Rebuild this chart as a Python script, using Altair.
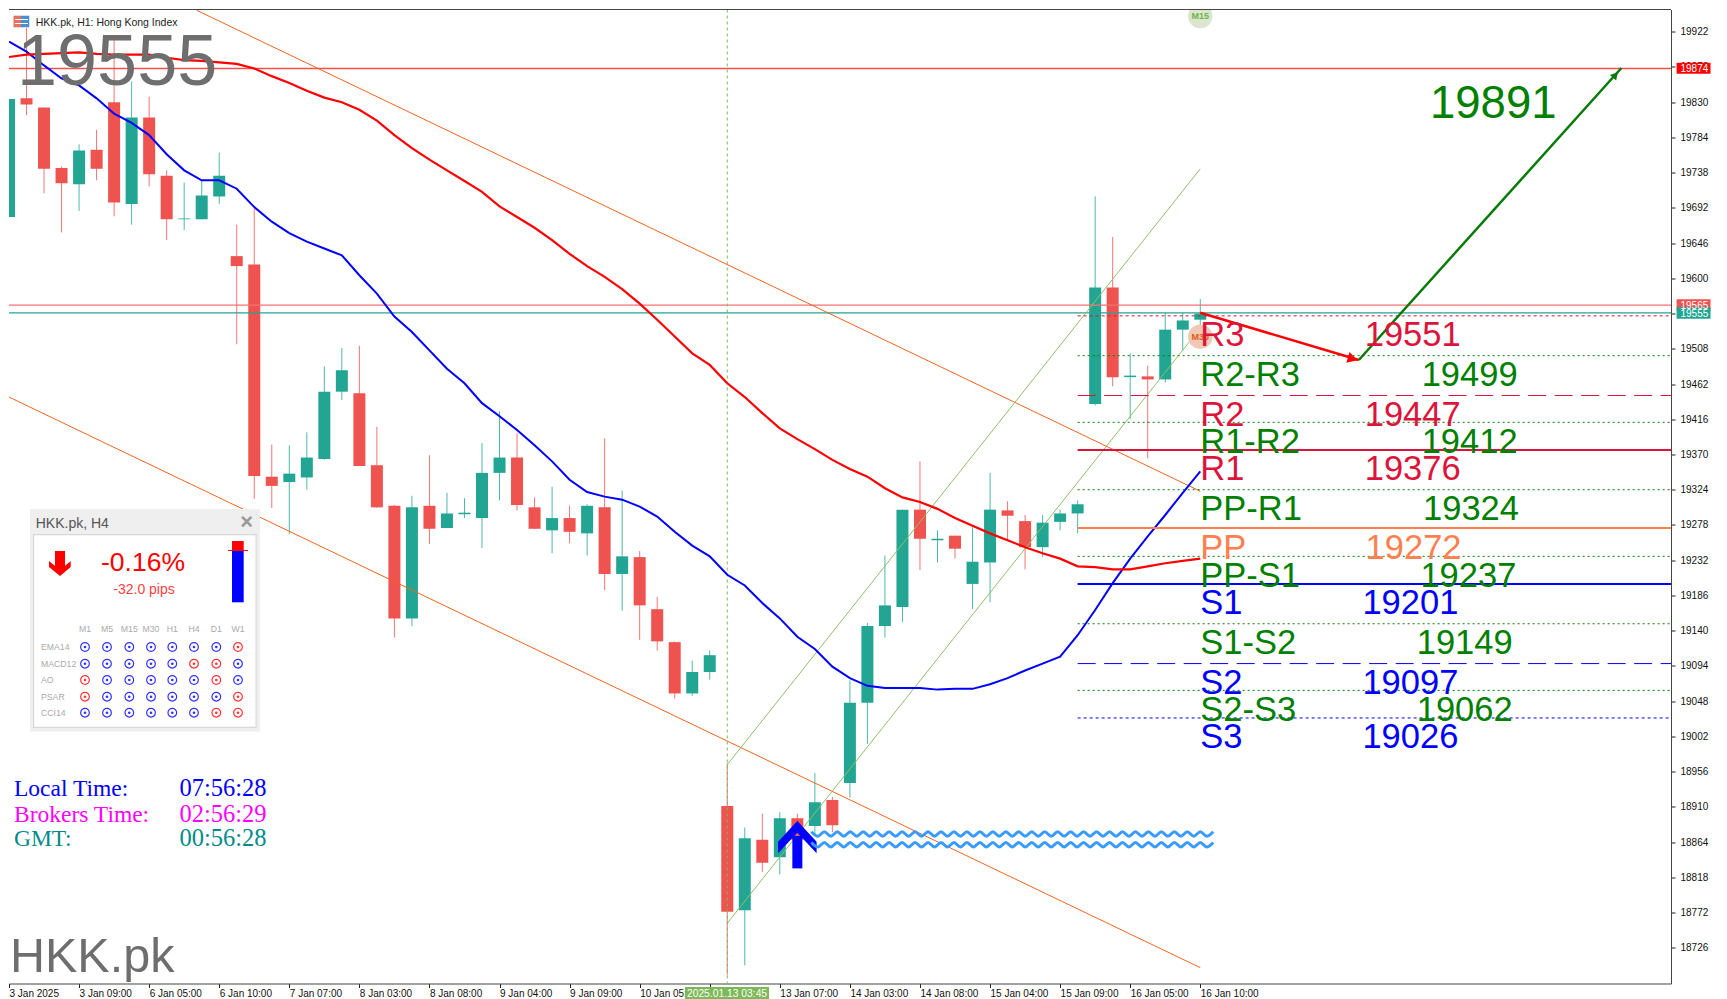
import altair as alt
import pandas as pd

# ---------- candles (H1, price values) ----------
OPEN = [19680,19835,19823,19744,19723,19768,19830,19697,19810,19734,19677,19677,19707,19629,19618,19341,19334,19340,19364,19452,19450,19356,19303,19156,19303,19274,19292,19287,19346,19366,19301,19271,19287,19267,19301,19214,19236,19168,19125,19058,19086,
        18911,18775,18867,18844,18895,18885,18919,18941,19046,19146,19171,19298,19258,19264,19201,19229,19297,19283,19249,19282,19293,19436,19588,19471,19472,19468,19533,19546]
HIGH = [19834,19927,19823,19746,19775,19794,19914,19857,19837,19741,19725,19728,19764,19670,19692,19383,19382,19399,19485,19509,19512,19406,19304,19316,19369,19320,19313,19385,19426,19398,19314,19328,19303,19305,19391,19323,19244,19184,19126,19101,19114,
        18967,18883,18901,18903,18901,18954,18923,19075,19150,19238,19298,19361,19271,19264,19275,19346,19309,19291,19291,19298,19310,19707,19654,19502,19486,19555,19555,19573]
LOW  = [19680,19813,19711,19660,19688,19728,19681,19670,19720,19650,19663,19677,19697,19514,19312,19300,19266,19324,19363,19441,19355,19300,19131,19146,19253,19274,19287,19248,19310,19297,19273,19241,19254,19238,19193,19166,19128,19114,19051,19055,19076,
        18690,18703,18825,18822,18844,18873,18877,18922,18992,19131,19151,19219,19229,19234,19168,19177,19258,19220,19236,19271,19267,19434,19459,19416,19365,19464,19506,19524]
CLOSE= [19834,19827,19743,19724,19767,19743,19699,19810,19736,19677,19678,19708,19734,19616,19342,19329,19345,19366,19452,19480,19355,19301,19156,19301,19273,19293,19294,19346,19366,19304,19273,19287,19269,19303,19214,19237,19173,19126,19058,19086,19108,
        18773,18869,18837,18895,18867,18916,18886,19046,19146,19173,19298,19260,19260,19247,19230,19298,19290,19249,19281,19293,19305,19588,19471,19473,19468,19533,19545,19554]
EMA_BLUE = [19909,19896,19878,19861,19852,19835,19815,19803,19787,19762,19741,19728,19728,19717,19693,19674,19659,19648,19639,19630,19604,19580,19550,19530,19506,19482,19463,19437,19420,19402,19382,19361,19337,19321,19315,19311,19302,19289,19269,19251,19237,
            19213,19199,19176,19156,19132,19116,19093,19078,19068,19065,19065,19065,19063,19064,19064,19070,19078,19088,19097,19106,19134,19167,19202,19234,19263,19291,19320,19348]
EMA_RED  = [19889,19892,19893,19894,19895,19893,19892,19892,19892,19888,19885,19884,19882,19880,19874,19864,19855,19845,19836,19830,19820,19806,19787,19770,19755,19741,19727,19713,19694,19680,19666,19650,19632,19616,19602,19586,19567,19546,19524,19502,19487,
            19463,19445,19424,19404,19390,19377,19363,19351,19341,19326,19314,19308,19299,19287,19277,19267,19258,19249,19241,19234,19224,19223,19220,19220,19224,19228,19231,19234]

# ---------- axes ----------
Y_TICKS = [19922,19876,19830,19784,19738,19692,19646,19600,19554,19508,19462,19416,19370,19324,19278,19232,19186,19140,19094,19048,19002,18956,18910,18864,18818,18772,18726]
X_TICK_BARS = [0,4,8,12,16,20,24,28,32,36,40,44,48,52,56,60,64,68]
X_LABELS = ["3 Jan 2025","3 Jan 09:00","6 Jan 05:00","6 Jan 10:00","7 Jan 07:00","8 Jan 03:00","8 Jan 08:00","9 Jan 04:00","9 Jan 09:00","10 Jan 05:00","13 Jan 03:00","13 Jan 07:00","14 Jan 03:00","14 Jan 08:00","15 Jan 04:00","15 Jan 09:00","16 Jan 05:00","16 Jan 10:00"]

# ---------- levels ----------
LEVEL_NAMES  = ["R3","R2-R3","R2","R1-R2","R1","PP-R1","PP","PP-S1","S1","S1-S2","S2","S2-S3","S3"]
LEVEL_VALUES = [19551,19499,19447,19412,19376,19324,19272,19237,19201,19149,19097,19062,19026]
LEVEL_DRAWN  = [19551,19499,19447,19412,19376,19324,19274,19237,19201,19149,19097,19062,19026]
LEVEL_TEXT_BAR = [77.5,80.75,77.5,80.75,77.5,80.83,77.55,80.68,77.37,80.47,77.37,80.47,77.37]
CRIMSON, GREEN, CORAL, BLUE = "#DC143C", "#008000", "#FF7F50", "#0000FF"
LEVEL_COLORS = [CRIMSON,GREEN,CRIMSON,GREEN,CRIMSON,GREEN,CORAL,GREEN,BLUE,GREEN,BLUE,GREEN,BLUE]
DOT, DASH = [3,3], [18,8.5]
LEVEL_DASH  = [DOT,[2,3],DASH,[2,3],None,[2,3],None,[2,3],None,[2,3],DASH,[2,3],DOT]
LEVEL_WIDTH = [1,1,1,1,2,1,2,1,2,1,1,1,1]

# ---------- trend objects: bar index and price ----------
CHANNEL_ORANGE = [([10.71,68],[19950,19322]), ([0,68],[19445,18700])]
CHANNEL_GREEN  = [([41,68],[18965,19743]), ([41,68],[18758,19535])]
WAVE_BARS = [45.8,46.17,46.54,46.91,47.28,47.65,48.02,48.39,48.76,49.13,49.5,49.87,50.24,50.61,50.98,51.35,51.72,52.09,52.46,52.83,53.2,53.57,53.94,54.31,54.68,55.05,55.42,55.79,56.16,56.53,56.9,57.27,57.64,58.01,58.38,58.75,59.12,59.49,59.86,60.23,60.6,60.97,61.34,61.71,62.08,62.45,62.82,63.19,63.56,63.93,64.3,64.67,65.04,65.41,65.78,66.15,66.52,66.89,67.26,67.63,68.0,68.37,68.74]
WAVE_LEVELS = [18874.5, 18860.5]
WAVE_SWING = [3, -3]
BAR_MIN, BAR_MAX = 0, 94.87
PRICE_MIN, PRICE_MAX = 18679.3, 19951

SX = alt.Scale(domain=[BAR_MIN, BAR_MAX], nice=False, zero=False, padding=0)
SY = alt.Scale(domain=[PRICE_MIN, PRICE_MAX], nice=False, zero=False, padding=0)

AX = dict(domainColor="#444444", tickColor="#222222", labelColor="#111111", labelFont="Liberation Sans",
          labelFontSize=10, tickSize=4, grid=False, title=None, labelOverlap=False, labelBound=False, labelFlush=False)
expr = "{" + ",".join(f"{b}:'{t}'" for b, t in zip(X_TICK_BARS, X_LABELS)) + "}[datum.value]"
x_axis = alt.Axis(orient="bottom", values=X_TICK_BARS, labelExpr=expr, labelAlign="left", labelPadding=1, labelBaseline="top", **AX)
y_axis = alt.Axis(orient="right", values=Y_TICKS, format="d", labelPadding=5, **AX)
def X(f): return alt.X(f, type="quantitative", scale=SX, axis=x_axis, title=None)
def Y(f): return alt.Y(f, type="quantitative", scale=SY, axis=y_axis, title=None)

bars = pd.DataFrame({"i": range(len(OPEN)), "o": OPEN, "h": HIGH, "l": LOW, "c": CLOSE})
bars["up"] = bars.c >= bars.o
bars["col"] = bars.up.map({True: "#22A693", False: "#EE5350"})
bars["top"] = bars[["o", "c"]].max(axis=1)
bars["bot"] = bars[["o", "c"]].min(axis=1)
COL = alt.Color("col:N", scale=None)

layers = []
layers.append(alt.Chart(bars).mark_rule(strokeWidth=1, opacity=0.8, clip=True).encode(x=X("i"), y=Y("l"), y2="h:Q", color=COL))
layers.append(alt.Chart(bars).mark_bar(size=12, clip=True).encode(x=X("i"), y=Y("top"), y2="bot:Q", color=COL))

def ln(xs, ys, color, width, **kw):
    d = pd.DataFrame({"x": xs, "y": ys, "k": range(len(xs))})
    return alt.Chart(d).mark_line(color=color, strokeWidth=width, clip=True, **kw).encode(x=X("x"), y=Y("y"), order="k:Q")

# full width price lines
for price, color, w in [(19874, "#F55050", 1.5), (19565, "#F57070", 1.2), (19555, "#22A693", 1.2)]:
    layers.append(alt.Chart(pd.DataFrame({"p": [price]})).mark_rule(color=color, strokeWidth=w).encode(y=Y("p")))
layers.append(alt.Chart(pd.DataFrame({"b": [41]})).mark_rule(color="#7CB95C", strokeWidth=1, strokeDash=[3, 3]).encode(x=X("b")))

for xs, ys in CHANNEL_ORANGE:
    layers.append(ln(xs, ys, "#F0641E", 1))
for xs, ys in CHANNEL_GREEN:
    layers.append(ln(xs, ys, "#8FBF6A", 1))

idx = list(range(len(OPEN)))
layers.append(ln(idx, EMA_BLUE, BLUE, 2))
layers.append(ln(idx, EMA_RED, "#FF0000", 2.2))

# pivot lines
for v, c, dash, w in zip(LEVEL_DRAWN, LEVEL_COLORS, LEVEL_DASH, LEVEL_WIDTH):
    kw = {"strokeDash": dash} if dash else {}
    layers.append(alt.Chart(pd.DataFrame({"a": [61], "b": [BAR_MAX], "p": [v]})).mark_rule(color=c, strokeWidth=w, **kw)
                .encode(x=X("a"), x2="b:Q", y=Y("p")))

# forecast arrows
layers.append(ln([68, 77.05], [19555, 19493.4], "#FF0000", 2.5))
layers.append(ln([77.05, 92.04], [19493.4, 19874.6], "#0A7A0A", 2.5))
for b, p, ang, sz, c in [(76.7, 19495, 106.6, 130, "#FF0000"), (91.7, 19865.5, 42, 70, "#0A7A0A")]:
    layers.append(alt.Chart(pd.DataFrame({"b": [b], "p": [p]})).mark_point(shape="triangle-up", filled=True, opacity=1, size=sz, angle=ang, color=c)
                .encode(x=X("b"), y=Y("p")))

# timeframe bubbles
for b, p, fill, txt, tc in [(68, 19523.8, "#EFC8B6", "M30", "#E05A10"), (68, 19942.5, "#DCE6CE", "M15", "#6FB44F")]:
    d = pd.DataFrame({"b": [b], "p": [p], "t": [txt]})
    layers.append(alt.Chart(d).mark_point(shape="circle", filled=True, opacity=1, size=600, color=fill, clip=True).encode(x=X("b"), y=Y("p")))
    layers.append(alt.Chart(d).mark_text(font="Liberation Sans", fontSize=9, fontWeight="bold", color=tc).encode(x=X("b"), y=Y("p"), text="t:N"))

# buy arrow
arrow = pd.DataFrame({"b": [43.9, 45.0, 46.1], "t": [18864.4, 18891.4, 18864.4], "u": [18849.3, 18876.2, 18849.3]})
layers.append(alt.Chart(arrow).mark_area(color=BLUE, opacity=1, orient="vertical").encode(x=X("b"), y=Y("t"), y2="u:Q"))
layers.append(alt.Chart(pd.DataFrame({"b": [45.0], "t": [18872], "u": [18829.6]})).mark_bar(size=10, color=BLUE).encode(x=X("b"), y=Y("t"), y2="u:Q"))

# zigzag marker lines
for lvl in WAVE_LEVELS:
    ys = [lvl + WAVE_SWING[k % 2] for k in range(len(WAVE_BARS))]
    layers.append(ln(WAVE_BARS, ys, "#3A9BFF", 3, interpolate="monotone"))

# pivot texts
name_df = pd.DataFrame({"b": [68] * len(LEVEL_NAMES), "p": LEVEL_DRAWN, "t": LEVEL_NAMES, "c": LEVEL_COLORS})
val_df = pd.DataFrame({"b": LEVEL_TEXT_BAR, "p": LEVEL_DRAWN, "t": [str(v) for v in LEVEL_VALUES], "c": LEVEL_COLORS})
for d, dx in [(name_df, 0), (val_df, -2)]:
    layers.append(alt.Chart(d).mark_text(align="left", baseline="alphabetic", dy=30.5, dx=dx, font="Liberation Sans", fontSize=34.5)
                .encode(x=X("b"), y=Y("p"), text="t:N", color=alt.Color("c:N", scale=None)))

# ---------- screen furniture, given in page pixels and carried through the same scales ----------
PX_PER_BAR = 1662 / (BAR_MAX - BAR_MIN)
PX_PER_PRICE = 974 / (PRICE_MAX - PRICE_MIN)
def bar_of(px): return BAR_MIN + (px - 9) / PX_PER_BAR
def price_of(py): return PRICE_MAX - (py - 9.5) / PX_PER_PRICE

def rects(rows, **kw):
    d = pd.DataFrame([(bar_of(a), bar_of(b), price_of(c), price_of(e), f) for a, b, c, e, f in rows], columns=["x", "x2", "y", "y2", "c"])
    return alt.Chart(d).mark_rect(**kw).encode(x=X("x"), x2="x2:Q", y=Y("y"), y2="y2:Q", color=alt.Color("c:N", scale=None))

def texts(rows, font="Liberation Sans", align="left", weight="normal"):
    d = pd.DataFrame([(bar_of(a), price_of(b), t, c, s) for a, b, t, c, s in rows], columns=["x", "y", "t", "c", "s"])
    return alt.Chart(d).mark_text(font=font, align=align, baseline="alphabetic", fontWeight=weight).encode(
        x=X("x"), y=Y("y"), text="t:N", color=alt.Color("c:N", scale=None), size=alt.Size("s:Q", scale=None))

GREY = "#6E6E6E"
layers.append(rects([(9, 1671, 9, 10, "#444444")]))
layers.append(rects([(1676.6, 1710.5, 62.7, 73.7, "#FF0000"), (1676.6, 1710.5, 299.3, 311, "#EE5350"), (1676.6, 1710.5, 307.3, 318.7, "#22A693"), (685, 769, 987, 999, "#7DB958")]))
layers.append(texts([(1680.5, 72, "19874", "#FFFFFF", 10), (1680.5, 309, "19565", "#FFFFFF", 10), (1680.5, 317, "19555", "#FFFFFF", 10)]))
layers.append(texts([(727, 997, "2025.01.13 03:45", "#FFFFFF", 10.3)], align="center"))
# header icon and caption
layers.append(rects([(13.5, 21, 15.7, 27.3, "#E8705F"), (21, 29.3, 15.7, 27.3, "#4A90D0"), (15, 28, 19, 20, "#FFFFFF"), (15, 28, 23, 24, "#FFFFFF")]))
layers.append(texts([(35.7, 26, "HKK.pk, H1:  Hong Kong Index", "#222222", 10.5)]))
layers.append(texts([(17, 85, "19555", GREY, 72), (10, 972, "HKK.pk", GREY, 48.5), (1430, 118, "19891", GREEN, 45.5)]))

# signal panel
PANEL_TF = ["M1", "M5", "M15", "M30", "H1", "H4", "D1", "W1"]
PANEL_IND = ["EMA14", "MACD12", "AO", "PSAR", "CCI14"]
PANEL_SIGNALS = ["BBBBBBBR", "BBBBBRRB", "RBBBBBRB", "RBBBBBBR", "BBBBBBRR"]
col_x = [85, 107, 129.3, 151, 172.3, 194, 216.3, 238]
row_y = [647, 663.7, 680, 696.7, 712.7]
layers.append(rects([(30, 260, 509, 731.7, "#EFEFEF"), (33, 256.7, 534, 728, "#D8D8D8"), (34.2, 255.5, 535.2, 726.8, "#FFFFFF")]))
layers.append(texts([(35.7, 528, "HKK.pk, H4", "#555555", 14)]))
layers.append(texts([(246.7, 529, "×", "#999999", 22)], align="center", weight="bold"))
layers.append(texts([(143, 571, "-0.16%", "#FF0000", 26.5)], align="center"))
layers.append(texts([(144, 594, "-32.0 pips", "#FF4040", 14)], align="center"))
layers.append(rects([(232, 243.7, 550.7, 602.3, "#0000FF"), (232, 243.7, 541, 550.7, "#FF0000"), (228, 248, 550, 551, "#FF0000")]))
down = pd.DataFrame({"x": [bar_of(v) for v in (49, 60, 70.7)], "a": [price_of(v) for v in (561, 570, 561)], "b": [price_of(v) for v in (567, 576, 567)]})
layers.append(alt.Chart(down).mark_area(color="#FF0000", opacity=1, orient="vertical").encode(x=X("x"), y=Y("a"), y2="b:Q"))
layers.append(rects([(55, 65, 551, 572, "#FF0000")]))
layers.append(texts([(x, 632, t, "#AAAAAA", 8.7) for x, t in zip(col_x, PANEL_TF)], align="center"))
layers.append(texts([(41, y + 3, t, "#AAAAAA", 8.7) for y, t in zip(row_y, PANEL_IND)]))
cells = [{"x": bar_of(col_x[j]), "y": price_of(row_y[i]), "c": "#3333FF" if s == "B" else "#FF3333"}
         for i, row in enumerate(PANEL_SIGNALS) for j, s in enumerate(row)]
cells = pd.DataFrame(cells)
layers.append(alt.Chart(cells).mark_point(shape="circle", filled=False, opacity=1, size=75, strokeWidth=1.2).encode(x=X("x"), y=Y("y"), color=alt.Color("c:N", scale=None)))
layers.append(alt.Chart(cells).mark_point(shape="circle", filled=True, opacity=1, size=7).encode(x=X("x"), y=Y("y"), color=alt.Color("c:N", scale=None)))

# clocks
SERIF = "Liberation Serif"
layers.append(texts([(14, 796, "Local Time:", "#0000FF", 23.5), (14, 821.7, "Brokers Time:", "#FF00FF", 23.5), (14, 846, "GMT:", "#008B8B", 23.5),
                     (179.5, 796, "07:56:28", "#0000FF", 24.5), (179.5, 821.7, "02:56:29", "#FF00FF", 24.5), (179.5, 846, "00:56:28", "#008B8B", 24.5)], font=SERIF))

chart = alt.layer(*layers).properties(
    width=1662, height=974, background="#FFFFFF",
    padding={"left": 1, "top": 1.5, "right": 48, "bottom": 15},
    autosize=alt.AutoSizeParams(type="none"),
).configure_view(stroke=None)

chart.save("out.html", embed_options={"renderer": "svg", "actions": False})
